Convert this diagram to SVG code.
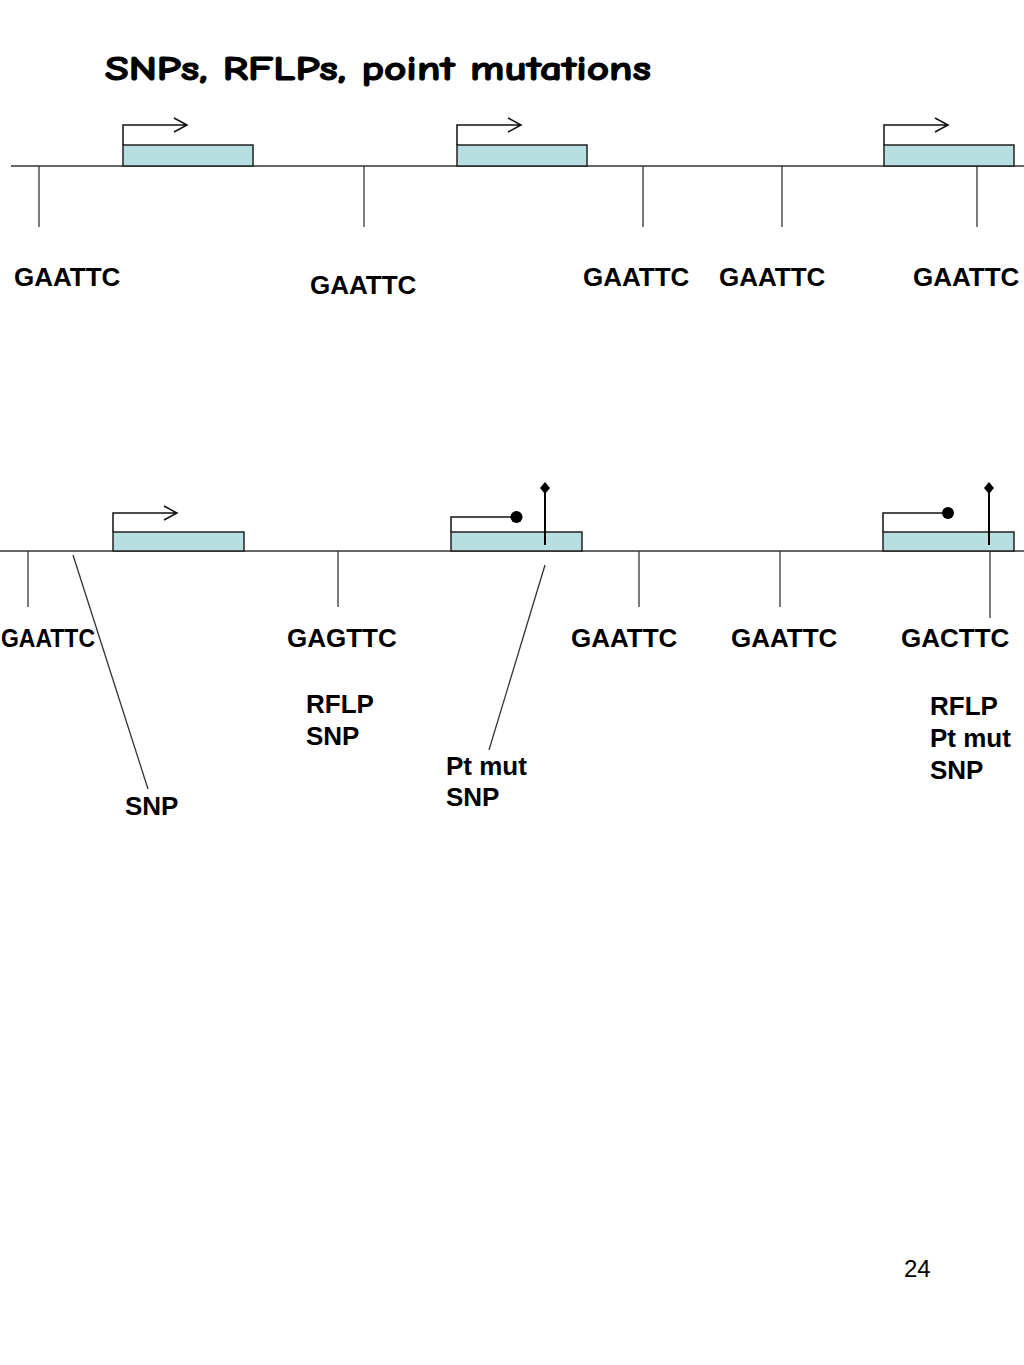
<svg xmlns="http://www.w3.org/2000/svg" width="1024" height="1365" viewBox="0 0 1024 1365">
<defs>
<style>
.lbl{font-family:"Liberation Sans",Arial,sans-serif;font-weight:bold;font-size:26px;fill:#000}
.ttl{font-family:"Comic Sans MS","Comic Neue","DejaVu Sans",sans-serif;font-weight:bold;font-size:34px;fill:#000;stroke:#000;stroke-width:1.1;stroke-linejoin:round}
.num{font-family:"Liberation Sans",Arial,sans-serif;font-size:24px;fill:#000}
.dna{stroke:#333;stroke-width:1.6;fill:none}
.tick{stroke:#333;stroke-width:1.3;fill:none}
.gene{fill:#b7dfe2;stroke:#222;stroke-width:1.5}
.prom{stroke:#111;stroke-width:1.5;fill:none}
.pin{stroke:#000;stroke-width:2;fill:none}
</style>
</defs>
<rect width="1024" height="1365" fill="#fff"/>
<text class="ttl" x="105" y="80" textLength="546" lengthAdjust="spacingAndGlyphs">SNPs, RFLPs, point mutations</text>

<g id="connectors">
<line class="dna" x1="11" y1="166" x2="1024" y2="166"/>
<line class="tick" x1="39" y1="166" x2="39" y2="227"/>
<line class="tick" x1="364" y1="166" x2="364" y2="227"/>
<line class="tick" x1="643" y1="166" x2="643" y2="227"/>
<line class="tick" x1="782" y1="166" x2="782" y2="227"/>
<line class="tick" x1="977" y1="166" x2="977" y2="227"/>

<line class="dna" x1="0" y1="551" x2="1024" y2="551"/>
<line class="tick" x1="28" y1="551" x2="28" y2="607"/>
<line class="tick" x1="338" y1="551" x2="338" y2="607"/>
<line class="tick" x1="639" y1="551" x2="639" y2="607"/>
<line class="tick" x1="780" y1="551" x2="780" y2="607"/>
<line class="tick" x1="990" y1="551" x2="990" y2="618"/>
<line class="tick" x1="73" y1="555" x2="148" y2="789"/>
<line class="tick" x1="545" y1="565" x2="489" y2="750"/>
</g>

<g id="gene1">
<rect class="gene" x="123" y="145" width="130" height="21"/>
<path class="prom" d="M123 145 V125 H187 M174 118 L187 125 L174 132"/>
</g>
<g id="gene2">
<rect class="gene" x="457" y="145" width="130" height="21"/>
<path class="prom" d="M457 145 V125 H521 M508 118 L521 125 L508 132"/>
</g>
<g id="gene3">
<rect class="gene" x="884" y="145" width="130" height="21"/>
<path class="prom" d="M884 145 V125 H948 M935 118 L948 125 L935 132"/>
</g>

<g id="gene4">
<rect class="gene" x="113" y="532" width="131" height="19"/>
<path class="prom" d="M113 532 V513 H177 M164 506 L177 513 L164 520"/>
</g>
<g id="gene5">
<rect class="gene" x="451" y="532" width="131" height="19"/>
<path class="prom" d="M451 532 V517 H512"/>
<circle cx="516.5" cy="517" r="6" fill="#000"/>
<line class="pin" x1="545" y1="545" x2="545" y2="490"/>
<path d="M545 482 L550 488 L545 494 L540 488 Z" fill="#000"/>
</g>
<g id="gene6">
<rect class="gene" x="883" y="532" width="131" height="19"/>
<path class="prom" d="M883 532 V513 H944"/>
<circle cx="948" cy="513" r="6" fill="#000"/>
<line class="pin" x1="989" y1="545" x2="989" y2="490"/>
<path d="M989 482 L994 488 L989 494 L984 488 Z" fill="#000"/>
</g>

<g id="labels-top">
<text class="lbl" x="14" y="286">GAATTC</text>
<text class="lbl" x="310" y="294">GAATTC</text>
<text class="lbl" x="583" y="286">GAATTC</text>
<text class="lbl" x="719" y="286">GAATTC</text>
<text class="lbl" x="913" y="286">GAATTC</text>
</g>
<g id="labels-bottom">
<text class="lbl" x="1" y="647" textLength="94" lengthAdjust="spacingAndGlyphs">GAATTC</text>
<text class="lbl" x="287" y="647">GAGTTC</text>
<text class="lbl" x="571" y="647">GAATTC</text>
<text class="lbl" x="731" y="647">GAATTC</text>
<text class="lbl" x="901" y="647">GACTTC</text>
<text class="lbl" x="306" y="713">RFLP</text>
<text class="lbl" x="306" y="745">SNP</text>
<text class="lbl" x="125" y="815">SNP</text>
<text class="lbl" x="446" y="775">Pt mut</text>
<text class="lbl" x="446" y="806">SNP</text>
<text class="lbl" x="930" y="715">RFLP</text>
<text class="lbl" x="930" y="747">Pt mut</text>
<text class="lbl" x="930" y="779">SNP</text>
</g>
<text class="num" x="904" y="1277">24</text>
</svg>
